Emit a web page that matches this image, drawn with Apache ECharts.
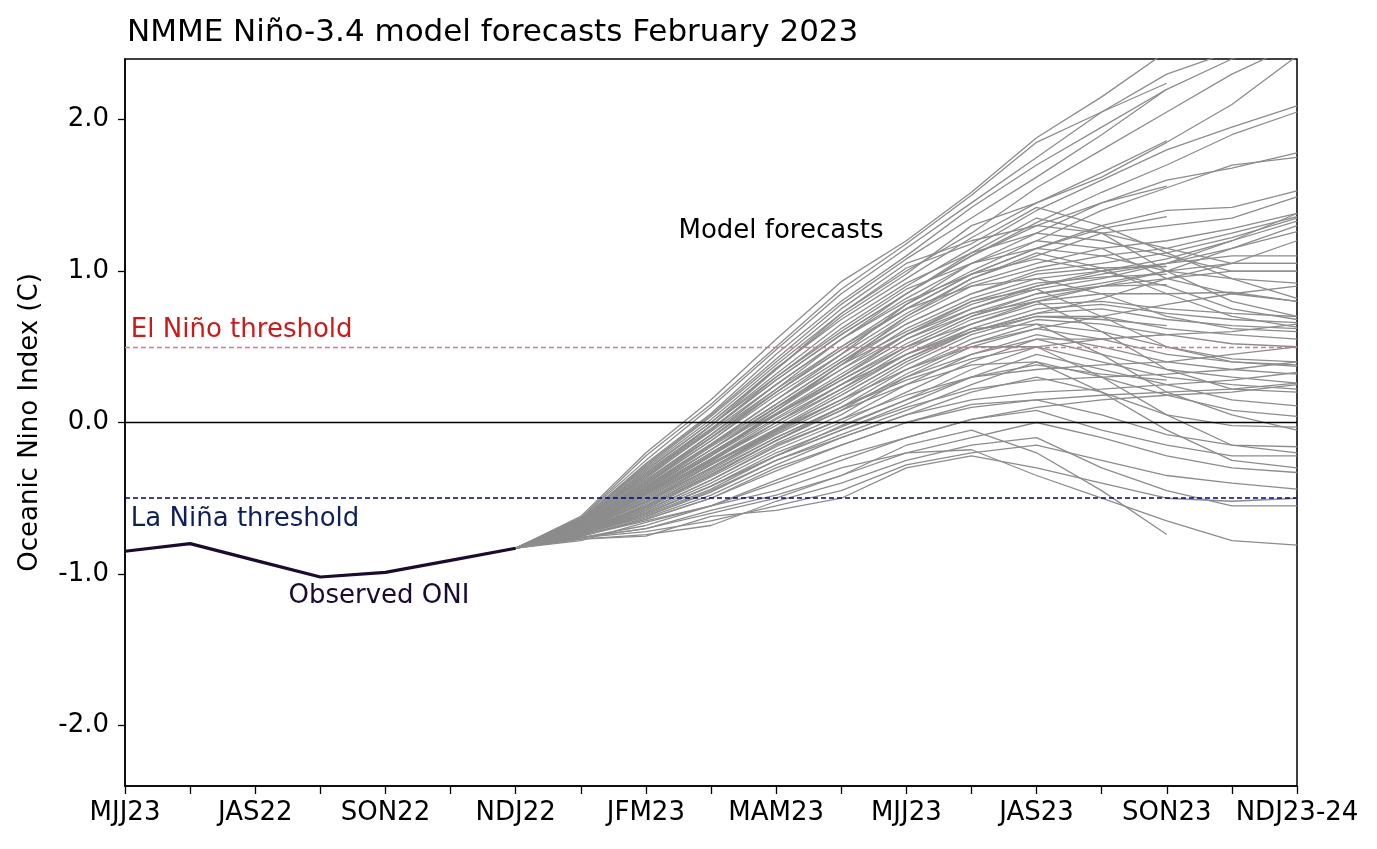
<!DOCTYPE html>
<html>
<head>
<meta charset="utf-8">
<script src="https://cdn.jsdelivr.net/npm/echarts@6/dist/echarts.min.js"></script>
<style>
html,body{margin:0;padding:0;background:#fff;}
#chart{width:1377px;height:849px;}
</style>
</head>
<body>
<div id="chart"></div>
<script>
// Seasons (categories) and displayed tick labels (as printed on the original)
const categories = ["MJJ22","JJA22","JAS22","ASO22","SON22","OND22","NDJ22","DJF23","JFM23","FMA23","MAM23","AMJ23","MJJ23","JJA23","JAS23","ASO23","SON23","OND23","NDJ23-24"];
const tickLabels = ["MJJ23","","JAS22","","SON22","","NDJ22","","JFM23","","MAM23","","MJJ23","","JAS23","","SON23","","NDJ23-24"];
const yTicks = [-2, -1, 0, 1, 2];

// Observed ONI (MJJ22 .. NDJ22)
const observedONI = [-0.85, -0.80, -0.91, -1.02, -0.99, -0.91, -0.83];

// Thresholds
const elNinoThreshold = 0.5;
const laNinaThreshold = -0.5;

// Model forecast members: values from DJF23 onward (start point NDJ22 = last observed)
const forecastStartIndex = 6;
const forecastStartValue = -0.83;
const members = [
  [-0.62,-0.20,0.15,0.55,0.93,1.20,1.52,1.88,2.15,2.45,2.70,2.80],
  [-0.63,-0.25,0.10,0.48,0.85,1.15,1.45,1.75,2.05,2.30,2.45,2.60],
  [-0.64,-0.28,0.05,0.42,0.78,1.08,1.35,1.62,1.90,2.20,2.40,2.55],
  [-0.64,-0.30,0.02,0.38,0.72,1.00,1.25,1.55,1.80,2.05,2.30,2.50],
  [-0.65,-0.32,0.00,0.35,0.70,0.98,1.30,1.45,1.62,1.85,2.10,2.42],
  [-0.65,-0.33,-0.02,0.30,0.62,0.90,1.15,1.40,1.60,1.80,1.95,2.09],
  [-0.66,-0.35,-0.05,0.28,0.58,0.85,1.10,1.32,1.52,1.70,1.90,2.05],
  [-0.66,-0.36,-0.06,0.25,0.55,0.82,1.05,1.25,1.45,1.60,1.68,1.78],
  [-0.67,-0.38,-0.08,0.22,0.50,0.78,1.00,1.20,1.40,1.55,1.70,1.75],
  [-0.67,-0.40,-0.10,0.20,0.48,0.75,0.98,1.15,1.30,1.40,1.42,1.53],
  [-0.67,-0.41,-0.12,0.18,0.45,0.72,0.95,1.10,1.25,1.30,1.35,1.49],
  [-0.68,-0.42,-0.14,0.15,0.42,0.70,0.92,1.05,1.15,1.20,1.28,1.38],
  [-0.68,-0.43,-0.15,0.12,0.40,0.68,0.90,1.02,1.10,1.15,1.25,1.36],
  [-0.68,-0.44,-0.16,0.10,0.38,0.65,0.85,1.00,1.05,1.12,1.22,1.35],
  [-0.69,-0.45,-0.18,0.08,0.35,0.62,0.82,0.95,1.00,1.08,1.20,1.33],
  [-0.69,-0.46,-0.20,0.06,0.32,0.58,0.78,0.90,0.98,1.05,1.15,1.26],
  [-0.69,-0.47,-0.21,0.05,0.30,0.55,0.75,0.88,0.95,1.05,1.10,1.10],
  [-0.70,-0.48,-0.22,0.03,0.28,0.52,0.72,0.85,0.92,1.00,1.05,1.05],
  [-0.70,-0.49,-0.24,0.00,0.25,0.50,0.70,0.82,0.90,0.95,1.00,1.00],
  [-0.70,-0.50,-0.25,-0.02,0.22,0.48,0.68,0.80,0.85,0.85,0.86,0.80],
  [-0.71,-0.51,-0.27,-0.04,0.20,0.45,0.65,0.78,0.80,0.75,0.72,0.70],
  [-0.71,-0.52,-0.28,-0.05,0.18,0.42,0.62,0.75,0.78,0.72,0.68,0.66],
  [-0.71,-0.53,-0.30,-0.07,0.15,0.40,0.60,0.72,0.75,0.68,0.64,0.62],
  [-0.72,-0.54,-0.31,-0.08,0.13,0.38,0.58,0.70,0.70,0.62,0.58,0.55],
  [-0.72,-0.55,-0.33,-0.10,0.10,0.35,0.55,0.68,0.65,0.58,0.52,0.50],
  [-0.72,-0.56,-0.34,-0.12,0.08,0.32,0.52,0.65,0.60,0.50,0.42,0.40],
  [-0.73,-0.57,-0.36,-0.14,0.05,0.30,0.50,0.62,0.55,0.45,0.40,0.37],
  [-0.73,-0.58,-0.38,-0.16,0.02,0.25,0.45,0.58,0.50,0.40,0.35,0.32],
  [-0.73,-0.59,-0.40,-0.18,0.00,0.20,0.40,0.55,0.45,0.35,0.30,0.26],
  [-0.74,-0.60,-0.42,-0.20,-0.03,0.15,0.35,0.50,0.40,0.30,0.25,0.22],
  [-0.74,-0.61,-0.44,-0.22,-0.05,0.12,0.30,0.45,0.35,0.25,0.15,0.11],
  [-0.74,-0.62,-0.46,-0.25,-0.08,0.08,0.25,0.40,0.30,0.18,0.08,0.04],
  [-0.75,-0.63,-0.48,-0.28,-0.10,0.05,0.20,0.30,0.20,0.05,-0.02,-0.03],
  [-0.75,-0.64,-0.50,-0.32,-0.15,0.00,0.12,0.15,0.05,-0.08,-0.15,-0.16],
  [-0.75,-0.65,-0.55,-0.40,-0.25,-0.10,0.02,0.08,-0.05,-0.15,-0.22,-0.22],
  [-0.76,-0.70,-0.60,-0.50,-0.35,-0.20,-0.10,0.00,-0.10,-0.22,-0.30,-0.33],
  [-0.76,-0.72,-0.65,-0.55,-0.45,-0.28,-0.20,-0.15,-0.25,-0.35,-0.40,-0.44],
  [-0.77,-0.75,-0.62,-0.58,-0.50,-0.30,-0.22,-0.30,-0.40,-0.50,-0.52,-0.50],
  [-0.77,-0.74,-0.68,-0.52,-0.40,-0.25,-0.15,-0.10,-0.30,-0.45,-0.55,-0.55],
  [-0.78,-0.66,-0.55,-0.45,-0.30,-0.20,-0.18,-0.35,-0.50,-0.65,-0.78,-0.81],
  [-0.66,-0.37,-0.05,0.30,0.60,0.88,1.05,1.15,1.10,1.00,0.95,0.92],
  [-0.67,-0.39,-0.08,0.25,0.55,0.80,0.98,1.08,1.00,0.90,0.75,0.68],
  [-0.68,-0.40,-0.12,0.20,0.50,0.75,0.90,0.95,0.85,0.70,0.62,0.60],
  [-0.69,-0.45,-0.18,0.10,0.38,0.60,0.80,0.88,0.70,0.50,0.40,0.38],
  [-0.70,-0.47,-0.22,0.05,0.30,0.55,0.72,0.80,0.60,0.35,0.22,0.20],
  [-0.71,-0.50,-0.26,0.00,0.22,0.45,0.62,0.65,0.45,0.20,0.05,-0.05],
  [-0.72,-0.52,-0.30,-0.06,0.15,0.35,0.50,0.50,0.30,0.05,-0.15,-0.20],
  [-0.73,-0.56,-0.35,-0.12,0.08,0.25,0.38,0.40,0.20,-0.05,-0.25,-0.30],
  [-0.68,-0.44,-0.18,0.10,0.35,0.58,0.75,0.90,1.00,1.05,1.20,1.38],
  [-0.69,-0.46,-0.20,0.05,0.28,0.50,0.65,0.80,0.90,1.00,1.15,1.30],
  [-0.70,-0.48,-0.24,0.02,0.25,0.45,0.60,0.72,0.82,0.95,1.05,1.20],
  [-0.71,-0.52,-0.28,-0.05,0.15,0.35,0.52,0.62,0.70,0.78,0.85,0.90],
  [-0.72,-0.55,-0.32,-0.10,0.10,0.28,0.42,0.50,0.55,0.58,0.60,0.65],
  [-0.73,-0.58,-0.38,-0.15,0.02,0.18,0.30,0.35,0.38,0.40,0.45,0.50],
  [-0.74,-0.60,-0.42,-0.22,-0.05,0.10,0.22,0.28,0.30,0.32,0.35,0.40],
  [-0.74,-0.62,-0.45,-0.25,-0.10,0.05,0.15,0.20,0.22,0.25,0.28,0.33],
  [-0.75,-0.64,-0.50,-0.30,-0.15,0.00,0.10,0.15,0.18,0.20,0.22,0.26],
  [-0.76,-0.68,-0.55,-0.38,-0.22,-0.10,0.02,0.10,0.15,0.18,0.20,0.25],
  [-0.65,-0.34,-0.02,0.32,0.65,0.92,1.12,1.25,1.20,1.10,1.00,1.00],
  [-0.64,-0.29,0.04,0.40,0.75,1.05,1.20,1.30,1.25,1.15,1.05,1.05],
  [-0.66,-0.36,-0.02,0.35,0.72,1.02,1.18,1.42,1.30,1.12,0.95,0.82],
  [-0.67,-0.40,-0.10,0.22,0.55,0.85,1.12,1.35,1.25,1.00,0.80,0.70],
  [-0.68,-0.43,-0.15,0.15,0.45,0.78,1.05,1.20,1.15,0.95,0.85,0.80],
  [-0.69,-0.47,-0.22,0.08,0.38,0.70,0.95,1.12,1.02,0.85,0.70,0.63],
  // shorter members ending at SON23
  [-0.63,-0.22,0.12,0.50,0.88,1.18,1.50,1.85,2.05,2.24],
  [-0.64,-0.27,0.06,0.45,0.80,1.10,1.42,1.70,1.95,2.20],
  [-0.65,-0.31,0.00,0.36,0.68,0.95,1.22,1.45,1.65,1.86],
  [-0.66,-0.34,-0.04,0.28,0.58,0.85,1.10,1.30,1.45,1.56],
  [-0.67,-0.38,-0.10,0.20,0.48,0.75,0.98,1.15,1.28,1.36],
  [-0.68,-0.42,-0.15,0.12,0.40,0.65,0.85,0.98,1.02,1.03],
  [-0.69,-0.46,-0.20,0.05,0.30,0.58,0.80,0.92,0.96,0.98],
  [-0.70,-0.50,-0.25,0.00,0.25,0.50,0.70,0.85,0.90,0.91],
  [-0.71,-0.53,-0.30,-0.05,0.18,0.42,0.60,0.70,0.68,0.64],
  [-0.72,-0.56,-0.35,-0.12,0.10,0.30,0.45,0.55,0.55,0.58],
  [-0.73,-0.60,-0.42,-0.22,-0.02,0.15,0.30,0.38,0.32,0.28],
  [-0.76,-0.70,-0.58,-0.48,-0.35,-0.15,-0.05,-0.20,-0.45,-0.74]
];

const FONT = "DejaVu Sans";
const chart = echarts.init(document.getElementById('chart'), null, {renderer: 'canvas'});

const series = [];
members.forEach((m, k) => {
  const data = categories.map(() => null);
  data[forecastStartIndex] = forecastStartValue;
  m.forEach((v, j) => { data[forecastStartIndex + 1 + j] = v; });
  series.push({
    type: 'line', name: 'm' + k, data: data, showSymbol: false, symbol: 'none',
    silent: true, connectNulls: false, z: 2,
    lineStyle: {color: '#8c8c8c', width: 1.3}
  });
});

// reference lines
series.push({
  type: 'line', data: [], silent: true, z: 4,
  markLine: {
    symbol: 'none', silent: true, animation: false, label: {show: false},
    data: [
      {yAxis: 0, lineStyle: {color: '#000', width: 1.4, type: 'solid'}},
      {yAxis: elNinoThreshold, lineStyle: {color: '#f06a8a', width: 1.3, type: [5, 3]}},
      {yAxis: laNinaThreshold, lineStyle: {color: '#00009e', width: 1.6, type: [5, 3]}}
    ]
  }
});

// observed ONI
series.push({
  type: 'line', data: observedONI, showSymbol: false, symbol: 'none', silent: true, z: 5,
  lineStyle: {color: '#1c0a30', width: 3.2}
});

chart.setOption({
  animation: false,
  backgroundColor: '#fff',
  title: {
    text: 'NMME Niño-3.4 model forecasts February 2023',
    left: 122, top: 12,
    textStyle: {fontFamily: FONT, fontSize: 31, fontWeight: 'normal', color: '#000'}
  },
  grid: {left: 125, right: 80, top: 59, bottom: 63, show: true, borderColor: '#000', borderWidth: 1.5, backgroundColor: 'transparent'},
  xAxis: {
    type: 'category', data: categories, boundaryGap: false,
    axisLine: {onZero: false, lineStyle: {color: '#000', width: 1.5}},
    axisTick: {show: true, interval: 0, length: 8, lineStyle: {color: '#000', width: 1.3}},
    axisLabel: {interval: 0, margin: 14, fontFamily: FONT, fontSize: 26, color: '#000',
      formatter: (v, i) => tickLabels[i]},
    splitLine: {show: false}
  },
  yAxis: {
    type: 'value', min: -2.4, max: 2.4,
    name: 'Oceanic Nino Index (C)', nameLocation: 'middle', nameGap: 82,
    nameTextStyle: {fontFamily: FONT, fontSize: 26, color: '#000'},
    axisLine: {show: true, onZero: false, lineStyle: {color: '#000', width: 1.5}},
    axisTick: {show: true, length: 7, customValues: yTicks, lineStyle: {color: '#000', width: 1.3}},
    axisLabel: {fontFamily: FONT, fontSize: 26, color: '#000', margin: 16,
      customValues: yTicks, formatter: v => v.toFixed(1)},
    splitLine: {show: false}
  },
  series: series
});

// annotations anchored to data coordinates
function px(idx, val) {
  const a = chart.convertToPixel({xAxisIndex: 0, yAxisIndex: 0}, [0, val]);
  const b = chart.convertToPixel({xAxisIndex: 0, yAxisIndex: 0}, [categories.length - 1, val]);
  return [a[0] + (b[0] - a[0]) * idx / (categories.length - 1), a[1]];
}
const notes = [
  {text: 'El Niño threshold', idx: 0.09, val: 0.61, color: '#d01818'},
  {text: 'La Niña threshold', idx: 0.09, val: -0.64, color: '#0d1f5c'},
  {text: 'Model forecasts', idx: 8.5, val: 1.26, color: '#000'},
  {text: 'Observed ONI', idx: 2.51, val: -1.15, color: '#1c0a30'}
];
chart.setOption({
  graphic: notes.map(n => {
    const p = px(n.idx, n.val);
    return {type: 'text', x: p[0], y: p[1], z: 100, silent: true,
      style: {text: n.text, fill: n.color, font: '26px "' + FONT + '"', textVerticalAlign: 'middle', textAlign: 'left'}};
  })
});
</script>
</body>
</html>
